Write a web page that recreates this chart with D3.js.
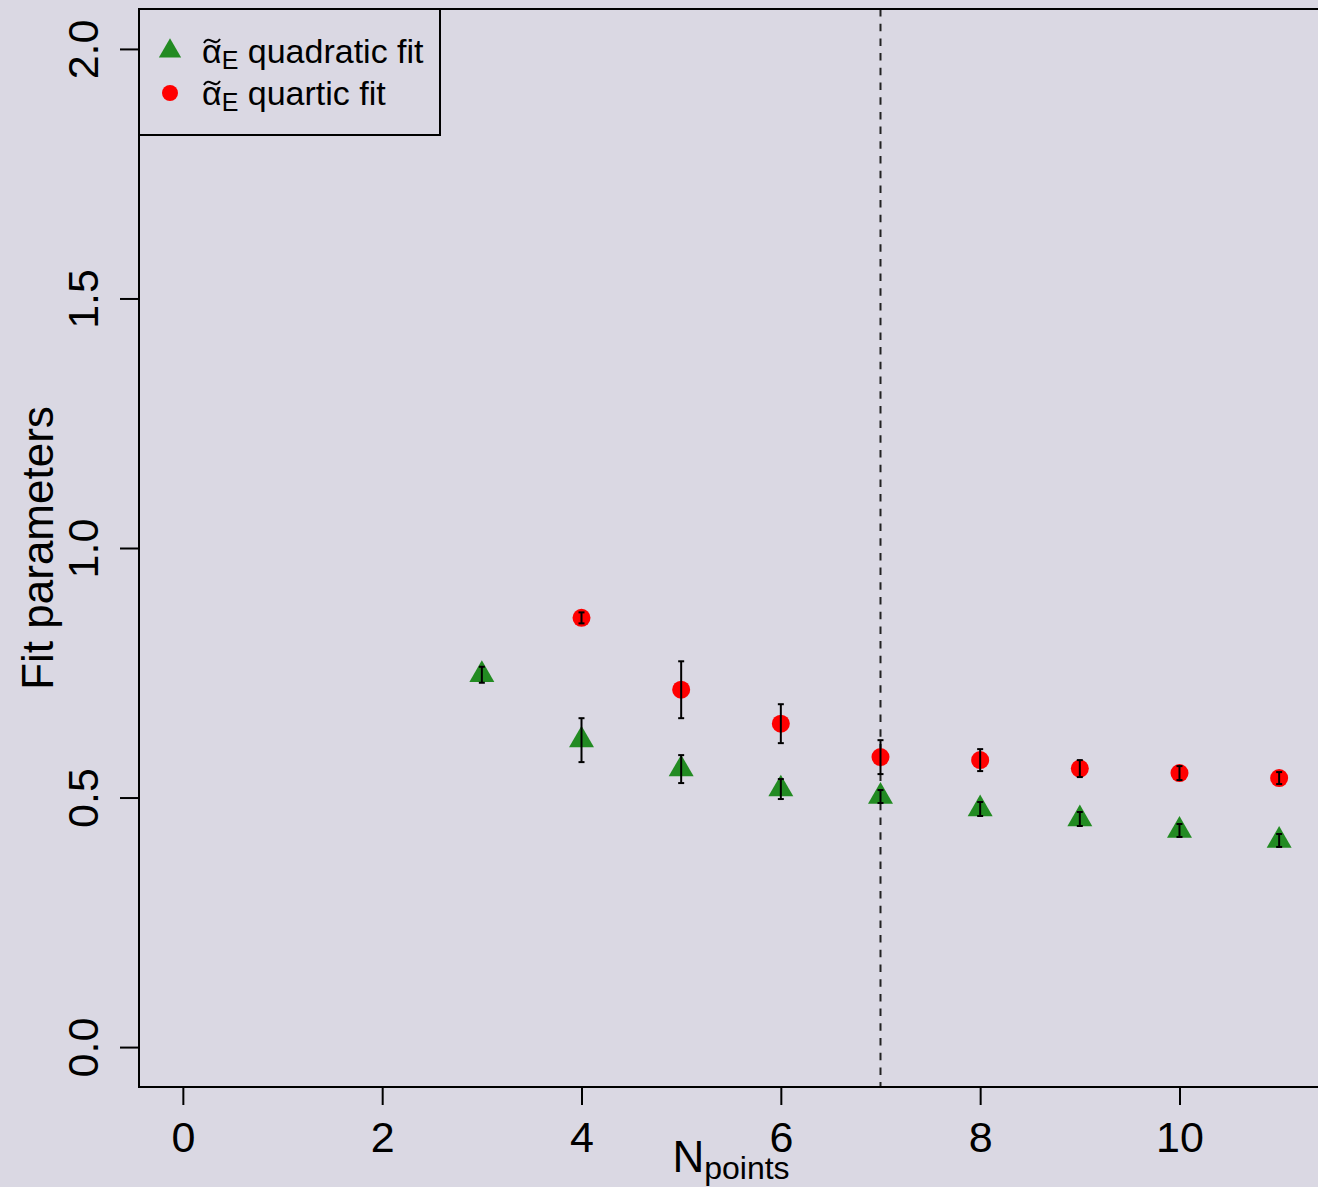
<!DOCTYPE html>
<html>
<head>
<meta charset="utf-8">
<script src="https://cdn.jsdelivr.net/npm/d3@7"></script>
<style>
  html, body { margin: 0; padding: 0; background: #dad8e3; }
  svg text { font-family: "Liberation Sans", Arial, Helvetica, sans-serif; fill: #000; }
</style>
</head>
<body>
<div id="chart"></div>
<script>
// data
var xTicks = [0, 2, 4, 6, 8, 10]
var yTicks = [0, 0.5, 1.0, 1.5, 2.0]
var yTickLabels = ["0.0", "0.5", "1.0", "1.5", "2.0"]

var quadN   = [3, 4, 5, 6, 7, 8, 9, 10, 11]
var quadVal = [0.746, 0.615, 0.557, 0.517, 0.502, 0.477, 0.457, 0.434, 0.414]
var quadErr = [0.016, 0.044, 0.028, 0.020, 0.013, 0.014, 0.014, 0.013, 0.013]

var quartN   = [4, 5, 6, 7, 8, 9, 10, 11]
var quartVal = [0.860, 0.716, 0.648, 0.581, 0.575, 0.558, 0.549, 0.539]
var quartErr = [0.011, 0.057, 0.039, 0.034, 0.022, 0.017, 0.014, 0.012]

var cutN = 7

var W = 1318, H = 1187
// plot region (R style, right edge runs off the page)
var box = {left: 139, top: 9, right: 1323, bottom: 1087}

var svg = d3.select("#chart").append("svg")
    .attr("width", W)
    .attr("height", H)

svg.append("rect").attr("width", W).attr("height", H).attr("fill", "#dad8e3")

// R pads the limits by 4%
var x = d3.scaleLinear().domain([-0.44, 11.44]).range([box.left, box.right])
var y = d3.scaleLinear().domain([-0.08, 2.08]).range([box.bottom, box.top])

// dashed cut line
svg.append("line")
    .attr("x1", x(cutN)).attr("x2", x(cutN))
    .attr("y1", box.top).attr("y2", box.bottom)
    .style("stroke", "#222")
    .style("stroke-width", 2)
    .style("stroke-dasharray", "7.5,7.2")

// axes
var xAxis = svg.append("g")
    .attr("transform", "translate(0," + box.bottom + ")")
    .call(d3.axisBottom(x).tickValues(xTicks).tickSize(18).tickSizeOuter(0).tickPadding(17))
xAxis.select(".domain").remove()
xAxis.selectAll(".tick line").style("stroke", "#000").style("stroke-width", 2)
xAxis.selectAll(".tick text")
    .attr("dy", null).attr("y", 65)
    .style("font-size", "43px")

var yAxis = svg.append("g")
    .attr("transform", "translate(" + box.left + ",0)")
    .call(d3.axisLeft(y).tickValues(yTicks).tickSize(19).tickSizeOuter(0)
        .tickFormat(function(d, i){ return yTickLabels[i] }))
yAxis.select(".domain").remove()
yAxis.selectAll(".tick line").style("stroke", "#000").style("stroke-width", 2)
yAxis.selectAll(".tick text")
    .attr("x", null).attr("dy", null)
    .attr("text-anchor", "middle")
    .attr("transform", "translate(-41,0) rotate(-90)")
    .style("font-size", "43px")

// frame
svg.append("rect")
    .attr("x", box.left).attr("y", box.top)
    .attr("width", box.right - box.left).attr("height", box.bottom - box.top)
    .attr("fill", "none")
    .style("stroke", "#000")
    .style("stroke-width", 2)

// axis titles
var xt = svg.append("text")
    .attr("x", (box.left + box.right) / 2)
    .attr("y", 1172)
    .attr("text-anchor", "middle")
    .style("font-size", "44px")
xt.append("tspan").text("N")
xt.append("tspan").attr("dy", 7).style("font-size", "32px").text("points")

svg.append("text")
    .attr("transform", "translate(53," + ((box.top + box.bottom) / 2) + ") rotate(-90)")
    .attr("text-anchor", "middle")
    .style("font-size", "44px")
    .text("Fit parameters")

// points
var tri = d3.symbol().type(d3.symbolTriangle).size(270)
var quad = quadN.map(function(n, i){ return {n: n, v: quadVal[i], e: quadErr[i]} })
var quart = quartN.map(function(n, i){ return {n: n, v: quartVal[i], e: quartErr[i]} })

svg.selectAll(".quad").data(quad).enter().append("path")
    .attr("class", "quad")
    .attr("d", tri)
    .attr("transform", function(d){ return "translate(" + x(d.n) + "," + y(d.v) + ")" })
    .attr("fill", "#228b22")

svg.selectAll(".quart").data(quart).enter().append("circle")
    .attr("class", "quart")
    .attr("cx", function(d){ return x(d.n) })
    .attr("cy", function(d){ return y(d.v) })
    .attr("r", 9)
    .attr("fill", "#ff0000")

// error bars on top
function errorBars(data, cls){
  var g = svg.selectAll("." + cls).data(data).enter().append("g").attr("class", cls)
  g.append("line")
    .attr("x1", function(d){ return x(d.n) }).attr("x2", function(d){ return x(d.n) })
    .attr("y1", function(d){ return y(d.v - d.e) }).attr("y2", function(d){ return y(d.v + d.e) })
  g.append("line")
    .attr("x1", function(d){ return x(d.n) - 3 }).attr("x2", function(d){ return x(d.n) + 3 })
    .attr("y1", function(d){ return y(d.v - d.e) }).attr("y2", function(d){ return y(d.v - d.e) })
  g.append("line")
    .attr("x1", function(d){ return x(d.n) - 3 }).attr("x2", function(d){ return x(d.n) + 3 })
    .attr("y1", function(d){ return y(d.v + d.e) }).attr("y2", function(d){ return y(d.v + d.e) })
  g.selectAll("line").style("stroke", "#000").style("stroke-width", 2)
}
errorBars(quad, "errq")
errorBars(quart, "errr")

// legend
svg.append("rect")
    .attr("x", box.left).attr("y", box.top)
    .attr("width", 301).attr("height", 126)
    .attr("fill", "#dad8e3")
    .style("stroke", "#000")
    .style("stroke-width", 2)

var legendItems = [
  {label: " quadratic fit", y: 51, kind: "tri", color: "#228b22"},
  {label: " quartic fit", y: 93, kind: "dot", color: "#ff0000"}
]
legendItems.forEach(function(it){
  if (it.kind == "tri") {
    svg.append("path")
      .attr("d", d3.symbol().type(d3.symbolTriangle).size(215))
      .attr("transform", "translate(170," + it.y + ")")
      .attr("fill", it.color)
  } else {
    svg.append("circle").attr("cx", 170).attr("cy", it.y).attr("r", 8).attr("fill", it.color)
  }
  var t = svg.append("text")
      .attr("x", 202)
      .attr("y", it.y + 12)
      .style("font-size", "34px")
  t.append("tspan").text("\u03b1")
  t.append("tspan").attr("dy", 6).style("font-size", "25px").text("E")
  t.append("tspan").attr("dy", -6).text(it.label)

  // tilde over the alpha
  var tx = 212, ty = it.y - 10
  var p = d3.path()
  p.moveTo(tx - 8, ty + 2)
  p.bezierCurveTo(tx - 3, ty - 7, tx + 3, ty + 7, tx + 8, ty - 2)
  svg.append("path")
    .attr("d", p.toString())
    .attr("fill", "none")
    .style("stroke", "#000")
    .style("stroke-width", 2)
})
</script>
</body>
</html>
